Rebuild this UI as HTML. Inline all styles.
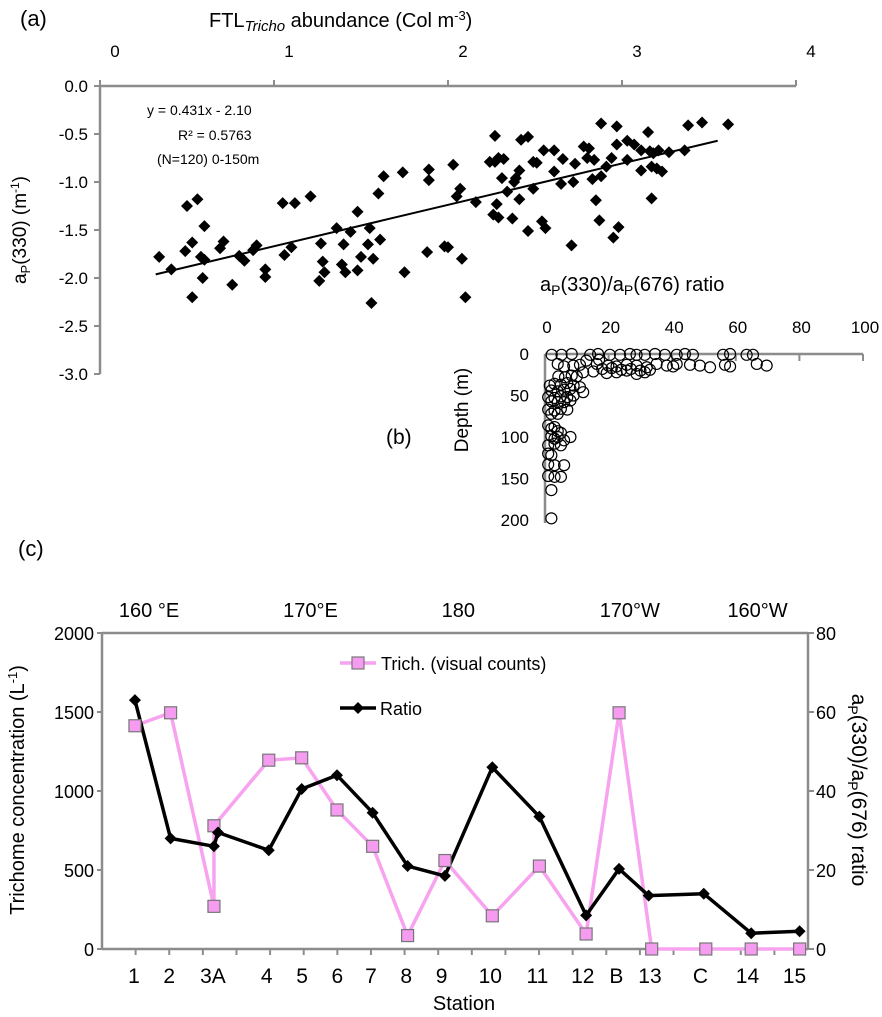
<!DOCTYPE html>
<html><head><meta charset="utf-8"><style>
html,body{margin:0;padding:0;background:#fff;}
svg{display:block;font-family:"Liberation Sans",sans-serif;}
</style></head><body>
<svg id="fig" width="882" height="1017" viewBox="0 0 882 1017" xmlns="http://www.w3.org/2000/svg">
<g id="pa"></g>
<g id="pb"></g>
<g id="pc"></g>
</svg>
<script>
// ---------- Panel (a) data ----------
const aX = [0.34,0.41,0.50,0.56,0.60,0.53,0.49,0.58,0.60,0.59,0.53,0.71,0.69,0.76,0.80,0.83,0.90,0.88,0.95,0.95,
1.05,1.12,1.21,1.06,1.10,1.27,1.28,1.29,1.26,1.36,1.44,1.40,1.39,1.41,1.48,1.50,1.48,1.55,1.54,1.57,
1.61,1.56,1.60,1.63,1.74,1.75,1.89,1.89,1.88,1.98,2.00,2.03,2.07,2.05,2.16,2.08,2.10,2.27,2.24,2.27,
2.32,2.29,2.31,2.28,2.26,2.29,2.34,2.38,2.39,2.41,2.41,2.37,2.42,2.46,2.46,2.49,2.49,2.51,2.55,2.54,
2.56,2.88,2.97,3.15,3.38,3.46,3.61,3.03,2.97,3.07,3.11,3.16,3.18,3.21,3.27,3.36,3.03,2.94,2.91,2.88,
2.83,3.11,3.17,3.20,3.23,3.17,2.85,2.87,2.98,2.95,2.71,2.72,2.65,2.73,2.66,2.78,2.81,2.80,2.84,2.61,2.61];
const aY = [-1.78,-1.91,-1.25,-1.18,-1.46,-1.63,-1.72,-1.78,-1.81,-2.00,-2.20,-1.62,-1.69,-2.07,-1.77,-1.82,-1.66,-1.71,-1.91,-1.99,
-1.22,-1.22,-1.15,-1.76,-1.68,-1.64,-1.83,-1.94,-2.03,-1.48,-1.52,-1.65,-1.86,-1.94,-1.31,-1.78,-1.92,-1.48,-1.65,-1.80,
-1.60,-2.26,-1.12,-0.94,-0.90,-1.94,-0.87,-0.98,-1.73,-1.67,-1.68,-0.82,-1.07,-1.15,-1.21,-1.80,-2.20,-0.52,-0.79,-0.79,
-0.76,-0.75,-0.96,-1.23,-1.34,-1.37,-1.10,-1.00,-0.96,-0.88,-1.18,-1.38,-0.56,-0.53,-1.51,-1.07,-0.79,-0.80,-0.67,-1.41,
-1.48,-0.39,-0.42,-0.48,-0.41,-0.38,-0.40,-0.57,-0.61,-0.61,-0.67,-0.68,-0.70,-0.67,-0.69,-0.67,-0.77,-0.75,-0.84,-0.94,
-0.97,-0.88,-0.84,-0.86,-0.89,-1.17,-1.19,-1.40,-1.47,-1.58,-1.66,-1.00,-1.02,-0.81,-0.76,-0.63,-0.65,-0.75,-0.77,-0.89,-0.67];
const aXTicks = [0,1,2,3,4];
const aYTicks = [0.0,-0.5,-1.0,-1.5,-2.0,-2.5,-3.0];
const aFit = [0.431,-2.10];
const aFitRange = [0.32,3.55];

// ---------- Panel (b) data ----------
const bRatio = [2.1,5.2,8.4,14.2,16.7,20.4,23.6,26.7,28.8,31.4,34.6,37.7,41.4,44,46.5,56,58.2,63.4,65.4,
8.9,11,16.3,19.9,22.5,25.7,28.8,32,35.1,38.3,40.3,41.4,45.6,48.7,51.9,56.6,58.2,66.6,69.7,
12,15.2,19.4,22.5,25.7,28.8,31.4,4.2,6.3,8.4,10,18,21,24,27,30,33,13,17,
1.5,3,5,7,9,11,2,4,6,8,12,1,3,5,7,9,2,4,6,8,1,3,5,7,2,4,1,2,3,4,5,2,3,4,6,8,1,3,5,1,2,1,3,6,1,3,5,2,2,4,6];
const bDepth = [1,1,0,1,0,1,1,0,1,1,0,1,1,0,1,1,0,1,1,
14,13,12,14,15,13,14,16,12,14,15,12,13,14,16,13,15,12,14,
22,21,23,22,20,24,22,27,28,26,27,18,17,19,18,20,19,8,7,
38,36,37,35,38,40,44,45,43,42,46,52,53,51,52,50,57,58,58,56,67,68,66,67,72,72,86,90,88,93,95,99,102,100,104,100,110,108,110,120,122,133,134,134,147,148,148,164,198,12,15];
const bXTicks = [0,20,40,60,80,100];
const bYTicks = [0,50,100,150,200];

// ---------- Panel (c) data ----------
const cStations = ["1","2","3A","4","5","6","7","8","9","10","11","12","B","13","C","14","15"];
const cStationPos = [0.95,2.0,3.3,4.9,5.95,7.0,8.0,9.05,10.1,11.55,12.95,14.3,15.3,16.3,17.8,19.2,20.6];
const trichPos = [0.98,2.04,3.33,3.33,4.96,5.94,6.99,8.05,9.09,10.2,11.61,13.01,14.4,15.38,16.35,17.96,19.31,20.75];
const trichVal = [1413,1495,270,780,1195,1210,880,650,85,560,210,525,95,1495,0,0,0,0];
const ratioPos = [0.98,2.04,3.33,3.45,4.96,5.94,6.99,8.05,9.09,10.2,11.61,13.01,14.4,15.38,16.26,17.9,19.31,20.75];
const ratioVal = [63,28,26,29.5,25,40.5,44,34.5,21,18.5,46,33.5,8.5,20.3,13.5,14,4,4.5];
const cLeftTicks = [0,500,1000,1500,2000];
const cRightTicks = [0,20,40,60,80];
const cLonLabels = ["160 °E","170°E","180","170°W","160°W"];
const cLonPos = [1.4,6.2,10.6,15.7,19.5];

const NS="http://www.w3.org/2000/svg";
function mk(parent,tag,attrs,text){
  const e=document.createElementNS(NS,tag);
  for(const k in attrs) e.setAttribute(k,attrs[k]);
  if(text!==undefined) e.textContent=text;
  parent.appendChild(e); return e;
}
const GREY="#8c8c8c";

// ================= Panel A =================
(function(){
const g=document.getElementById('pa');
const x0=100,x1=796,y0=86,y1=374;
const sx=v=>x0+v/4*(x1-x0);
const sy=v=>y0+(-v)/3*(y1-y0);
let t=mk(g,'text',{x:20,y:26,'font-size':22},'(a)');


t=mk(g,'text',{x:209,y:27,'font-size':20});


t.innerHTML='FTL<tspan font-style="italic" font-size="15" dy="4">Tricho</tspan><tspan dy="-4"> abundance (Col m</tspan><tspan font-size="13" dy="-7">-3</tspan><tspan dy="7">)</tspan>';
let l=mk(g,'line',{x1:x0,y1:y0,x2:x1,y2:y0,stroke:GREY,'stroke-width':2.5});


l=mk(g,'line',{x1:x0,y1:y0-1,x2:x0,y2:y1,stroke:GREY,'stroke-width':2.5});


aXTicks.forEach(v=>{
  mk(g,'line',{x1:sx(v),y1:y0,x2:sx(v),y2:y0-6,stroke:GREY,'stroke-width':2});
  const tt=mk(g,'text',{x:sx(v)+15,y:57,'font-size':17,'text-anchor':'middle'},String(v));
  
  
});
aYTicks.forEach(v=>{
  mk(g,'line',{x1:x0,y1:sy(v),x2:x0-6,y2:sy(v),stroke:GREY,'stroke-width':2});
  const tt=mk(g,'text',{x:88,y:sy(v)+6,'font-size':17,'text-anchor':'end'},v.toFixed(1));
  
  
});
t=mk(g,'text',{transform:'translate(26,230) rotate(-90)','font-size':19,'text-anchor':'middle'});


t.innerHTML='a<tspan font-size="13" dy="4">P</tspan><tspan dy="-4">(330) (m</tspan><tspan font-size="12" dy="-7">-1</tspan><tspan dy="7">)</tspan>';
const eq=[['y = 0.431x - 2.10',147,115],['R² = 0.5763',178,140],['(N=120) 0-150m',157,164]];
eq.forEach(e=>{const tt=mk(g,'text',{x:e[1],y:e[2],'font-size':14},e[0]);
  
  });
for(let i=0;i<aX.length;i++){
  const cx=sx(aX[i]),cy=sy(aY[i]),r=6;
  const p=mk(g,'polygon',{points:`${cx},${cy-r} ${cx+r},${cy} ${cx},${cy+r} ${cx-r},${cy}`,fill:'#000'});
  
  
}
const fl=mk(g,'line',{x1:sx(aFitRange[0]),y1:sy(aFit[0]*aFitRange[0]+aFit[1]),x2:sx(aFitRange[1]),y2:sy(aFit[0]*aFitRange[1]+aFit[1]),stroke:'#000','stroke-width':2});


})();

// ================= Panel B =================
(function(){
const g=document.getElementById('pb');
const x0=545,x1=863,y0=354,y1=520;
const sx=v=>x0+v/100*(x1-x0);
const sy=v=>y0+v/200*(y1-y0);
let t=mk(g,'text',{x:540,y:291,'font-size':20});


t.innerHTML='a<tspan font-size="14" dy="4">P</tspan><tspan dy="-4">(330)/a</tspan><tspan font-size="14" dy="4">P</tspan><tspan dy="-4">(676)  ratio</tspan>';
t=mk(g,'text',{x:386,y:444,'font-size':21},'(b)');


t=mk(g,'text',{transform:'translate(468,410) rotate(-90)','font-size':19,'text-anchor':'middle'},'Depth (m)');


let l=mk(g,'line',{x1:x0,y1:y0,x2:x1,y2:y0,stroke:GREY,'stroke-width':2.5});


l=mk(g,'line',{x1:x0,y1:y0,x2:x0,y2:y1+3,stroke:GREY,'stroke-width':2.5});


bXTicks.forEach(v=>{
  mk(g,'line',{x1:sx(v),y1:y0,x2:sx(v),y2:y0+7,stroke:GREY,'stroke-width':2});
  const tt=mk(g,'text',{x:sx(v)+2,y:333,'font-size':17,'text-anchor':'middle'},String(v));
  
  
});
bYTicks.forEach(v=>{
  const tt=mk(g,'text',{x:529,y:sy(v)+6,'font-size':17,'text-anchor':'end'},String(v));
  
  
});
for(let i=0;i<bRatio.length;i++){
  const c=mk(g,'circle',{cx:sx(bRatio[i]),cy:sy(bDepth[i]),r:5.5,fill:'none',stroke:'#000','stroke-width':1.2});
  
  
}
})();

// ================= Panel C =================
(function(){
const g=document.getElementById('pc');
const x0=102,x1=808,y0=633,y1=949;
const ux=(x1-x0)/21;
const sx=u=>x0+u*ux;
const syL=v=>y1-v/2000*(y1-y0);
const syR=v=>y1-v/80*(y1-y0);
let t=mk(g,'text',{x:18,y:556,'font-size':22},'(c)');


cLonLabels.forEach((s,i)=>{
  const tt=mk(g,'text',{x:sx(cLonPos[i]),y:617,'font-size':20,'text-anchor':'middle'},s);
  
  
});
let l=mk(g,'line',{x1:x0,y1:y0,x2:x1,y2:y0,stroke:GREY,'stroke-width':2.5});


l=mk(g,'line',{x1:x0,y1:y1,x2:x1,y2:y1,stroke:GREY,'stroke-width':2.5});


l=mk(g,'line',{x1:x0,y1:y0,x2:x0,y2:y1,stroke:GREY,'stroke-width':2.5});


l=mk(g,'line',{x1:x1,y1:y0,x2:x1,y2:y1,stroke:GREY,'stroke-width':2.5});


for(let u=1;u<=20;u++) mk(g,'line',{x1:sx(u),y1:y1,x2:sx(u),y2:y1+6,stroke:GREY,'stroke-width':2});
cLeftTicks.forEach(v=>{
  mk(g,'line',{x1:x0,y1:syL(v),x2:x0-5,y2:syL(v),stroke:GREY,'stroke-width':2});
  const tt=mk(g,'text',{x:94,y:syL(v)+7,'font-size':18,'text-anchor':'end'},String(v));
  
  
});
cRightTicks.forEach(v=>{
  mk(g,'line',{x1:x1,y1:syR(v),x2:x1+6,y2:syR(v),stroke:GREY,'stroke-width':2});
  const tt=mk(g,'text',{x:816,y:syR(v)+7,'font-size':18},String(v));
  
  
});
cStations.forEach((s,i)=>{
  const tt=mk(g,'text',{x:sx(cStationPos[i]),y:983,'font-size':21,'text-anchor':'middle'},s);
  
  
});
t=mk(g,'text',{x:464,y:1010,'font-size':20,'text-anchor':'middle'},'Station');


t=mk(g,'text',{transform:'translate(24,790) rotate(-90)','font-size':20,'text-anchor':'middle'});


t.innerHTML='Trichome concentration  (L<tspan font-size="13" dy="-7">-1</tspan><tspan dy="7">)</tspan>';
t=mk(g,'text',{transform:'translate(852,790) rotate(90)','font-size':21,'text-anchor':'middle'});


t.innerHTML='a<tspan font-size="14" dy="4">P</tspan><tspan dy="-4">(330)/a</tspan><tspan font-size="14" dy="4">P</tspan><tspan dy="-4">(676) ratio</tspan>';
// trich line
const tp=trichPos.map((u,i)=>sx(u)+','+syL(trichVal[i])).join(' ');
const pl=mk(g,'polyline',{points:tp,fill:'none',stroke:'#f7a3ef','stroke-width':3.5,'stroke-linejoin':'round'});


const rp=ratioPos.map((u,i)=>sx(u)+','+syR(ratioVal[i])).join(' ');
const rl=mk(g,'polyline',{points:rp,fill:'none',stroke:'#000','stroke-width':3.5,'stroke-linejoin':'round'});


trichPos.forEach((u,i)=>{
  const s=mk(g,'rect',{x:sx(u)-6,y:syL(trichVal[i])-6,width:12,height:12,fill:'#f59bf0',stroke:'#777','stroke-width':1.2});
  
  
});
ratioPos.forEach((u,i)=>{
  const cx=sx(u),cy=syR(ratioVal[i]),r=6;
  const p=mk(g,'polygon',{points:`${cx},${cy-r} ${cx+r},${cy} ${cx},${cy+r} ${cx-r},${cy}`,fill:'#000'});
  
  
});
// legend
let lg=mk(g,'g',{});


mk(lg,'line',{x1:340,y1:663,x2:376,y2:663,stroke:'#f7a3ef','stroke-width':3.5});
mk(lg,'rect',{x:352,y:657,width:12,height:12,fill:'#f59bf0',stroke:'#777','stroke-width':1.2});
let lt=mk(lg,'text',{x:381,y:670,'font-size':18},'Trich.  (visual  counts)');


mk(lg,'line',{x1:340,y1:708,x2:376,y2:708,stroke:'#000','stroke-width':3.5});
mk(lg,'polygon',{points:'358,702 364,708 358,714 352,708',fill:'#000'});
lt=mk(lg,'text',{x:380,y:715,'font-size':18},'Ratio');


})();
</script>
</body></html>
